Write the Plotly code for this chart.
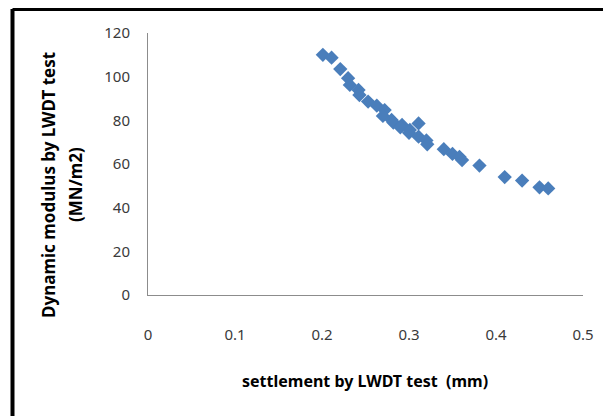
import plotly.graph_objects as go

settlement = [0.201, 0.211, 0.221, 0.230, 0.232, 0.242, 0.243, 0.253, 0.263, 0.272,
              0.270, 0.280, 0.282, 0.292, 0.290, 0.301, 0.300, 0.311, 0.311, 0.320,
              0.321, 0.340, 0.350, 0.358, 0.361, 0.381, 0.410, 0.430, 0.450, 0.460]
modulus = [110.0, 108.7, 103.5, 99.3, 96.2, 93.9, 91.6, 88.6, 86.7, 84.7,
           82.0, 80.2, 79.0, 77.9, 76.8, 75.6, 74.3, 78.6, 72.5, 70.8,
           69.0, 66.8, 64.6, 63.3, 61.8, 59.3, 54.0, 52.4, 49.3, 48.8]

x_ticks = [0, 0.1, 0.2, 0.3, 0.4, 0.5]
x_tick_labels = ["0", "0.1", "0.2", "0.3", "0.4", "0.5"]
y_ticks = [0, 20, 40, 60, 80, 100, 120]
y_tick_labels = ["0", "20", "40", "60", "80", "100", "120"]

tick_font = dict(family="Noto Sans, DejaVu Sans, sans-serif", size=15, color="#3a3a3a")
ytitle_font = dict(family="Noto Sans, DejaVu Sans, sans-serif", size=17, color="#000000")
xtitle_font = dict(family="Noto Sans, DejaVu Sans, sans-serif", size=16, color="#000000")

fig = go.Figure()
fig.add_trace(go.Scatter(
    x=settlement, y=modulus, mode="markers",
    marker=dict(symbol="diamond", size=11, color="#4A7EBB",
                line=dict(width=0)),
    cliponaxis=False, showlegend=False,
))

# page body has an 8px default margin, so margins are offset by 8px
fig.update_layout(
    width=611, height=416,
    margin=dict(l=140, r=36, t=25, b=129),
    paper_bgcolor="white", plot_bgcolor="white",
    xaxis=dict(range=[0, 0.5], tickvals=x_ticks, ticktext=x_tick_labels,
               showgrid=False, zeroline=False, showline=True,
               linecolor="#8c8c8c", linewidth=1,
               ticks="outside", ticklen=26, tickcolor="rgba(0,0,0,0)",
               tickfont=tick_font),
    yaxis=dict(range=[0, 120], tickvals=y_ticks, ticktext=y_tick_labels,
               showgrid=False, zeroline=False, showline=True,
               linecolor="#8c8c8c", linewidth=1,
               ticks="outside", ticklen=14, tickcolor="rgba(0,0,0,0)",
               tickfont=tick_font),
)

fig.add_annotation(text="<b>Dynamic modulus by LWDT test</b>", textangle=-90,
                   xref="paper", yref="paper", x=-0.2276, y=0.42,
                   xanchor="center", yanchor="middle", showarrow=False,
                   font=ytitle_font)
fig.add_annotation(text="<b>(MN/m2)</b>", textangle=-90,
                   xref="paper", yref="paper", x=-0.1655, y=0.42,
                   xanchor="center", yanchor="middle", showarrow=False,
                   font=ytitle_font)
fig.add_annotation(text="<b>settlement by LWDT test  (mm)</b>",
                   xref="paper", yref="paper", x=0.4989, y=-0.328,
                   xanchor="center", yanchor="middle", showarrow=False,
                   font=xtitle_font)

# outer chart frame (left and top edges visible)
fig.add_shape(type="line", xref="paper", yref="paper",
              x0=-0.3115, x1=-0.3115, y0=-0.6, y1=1.0916,
              line=dict(color="black", width=4))
fig.add_shape(type="line", xref="paper", yref="paper",
              x0=-0.3115, x1=1.2, y0=1.0916, y1=1.0916,
              line=dict(color="black", width=4))

fig.write_html("out.html")
